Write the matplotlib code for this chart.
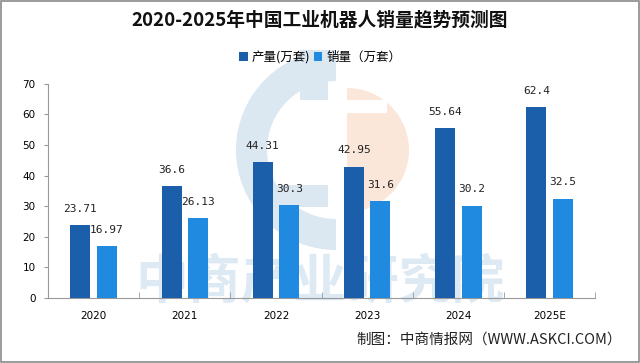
import matplotlib
matplotlib.use("Agg")
import matplotlib.pyplot as plt
import numpy as np
from matplotlib.patches import Rectangle, Wedge
from matplotlib.transforms import IdentityTransform

plt.rcParams['font.family'] = ['Noto Sans CJK SC', 'DejaVu Sans']

years = ["2020", "2021", "2022", "2023", "2024", "2025E"]
production = [23.71, 36.6, 44.31, 42.95, 55.64, 62.4]
sales = [16.97, 26.13, 30.3, 31.6, 30.2, 32.5]
prod_labels = ["23.71", "36.6", "44.31", "42.95", "55.64", "62.4"]
sales_labels = ["16.97", "26.13", "30.3", "31.6", "30.2", "32.5"]

c_dark = "#1b5fab"
c_light = "#2089e0"

W, H = 640, 363
fig = plt.figure(figsize=(6.4, 3.63), dpi=100)
fig.patch.set_facecolor("white")
fig.patches.append(Rectangle((0.002, 0.003), 0.996, 0.994, transform=fig.transFigure,
                             fill=False, edgecolor="#8a8a8a", linewidth=1.2))

# faint logo watermark (pixel coordinates)
logo_blue = "#dbe7f1"
logo_orange = "#fbe6da"
tr = IdentityTransform()
fig.patches.append(Wedge((336, H - 150), 100, 90, 270, width=31,
                         transform=tr, facecolor=logo_blue, edgecolor="none", zorder=-2))
fig.patches.append(Rectangle((300, H - 100), 28, 50, transform=tr,
                             facecolor=logo_blue, edgecolor="none", zorder=-2))
fig.patches.append(Rectangle((262, H - 207), 66, 22, transform=tr,
                             facecolor=logo_blue, edgecolor="none", zorder=-2))
fig.patches.append(Wedge((347, H - 150), 62, -90, 90, width=None,
                         transform=tr, facecolor=logo_orange, edgecolor="none", zorder=-2))
fig.patches.append(Rectangle((347, H - 113), 40, 13, transform=tr,
                             facecolor="white", edgecolor="none", zorder=-1))

ax = fig.add_axes([0.075, 0.179, 0.855, 0.590])
ax.set_zorder(1)
ax.patch.set_alpha(0)
x = np.arange(len(years))
w = 0.22
off = 0.145
ax.bar(x - off, production, w, color=c_dark, label="产量(万套)", zorder=3)
ax.bar(x + off, sales, w, color=c_light, label="销量（万套）", zorder=3)

for i in range(len(years)):
    ax.text(x[i] - off, production[i] + 5.3, prod_labels[i], ha="center", va="center",
            fontsize=8, color="#222222", family="DejaVu Sans Mono", zorder=4)
    ax.text(x[i] + off, sales[i] + 5.3, sales_labels[i], ha="center", va="center",
            fontsize=8, color="#222222", family="DejaVu Sans Mono", zorder=4)

ax.set_xlim(-0.5, 5.5)
ax.set_ylim(0, 70)
ax.set_yticks(range(0, 71, 10))
ax.set_xticks(x)
ax.set_xticklabels(years, fontsize=7.5, family="DejaVu Sans")
ax.tick_params(axis="x", length=0, pad=9)
ax.set_xticks(np.arange(-0.5, 6.0, 1.0), minor=True)
ax.tick_params(axis="x", which="minor", length=4, color="#999999", direction="in")
ax.tick_params(axis="y", labelsize=7.5, length=3, color="#999999", pad=6)
for lbl in ax.get_yticklabels():
    lbl.set_family("DejaVu Sans")
for s in ["top", "right"]:
    ax.spines[s].set_visible(False)
ax.spines["left"].set_color("#999999")
ax.spines["bottom"].set_color("#999999")

# watermark text
fig.text(0.5, 1 - 282 / H, "中商产业研究院", ha="center", va="center", fontsize=38,
         color="#bcd4e8", alpha=0.5, zorder=-1, fontweight="bold")

fig.text(0.5, 1 - 20 / H, "2020-2025年中国工业机器人销量趋势预测图", ha="center", va="center",
         fontsize=13.5, fontweight="bold", color="#111111")
fig.legend(loc="center", bbox_to_anchor=(0.5, 1 - 57 / H), ncol=2, frameon=False,
           fontsize=9, handlelength=0.7, handleheight=0.7, handletextpad=0.3, columnspacing=0.3)

fig.text(0.972, 1 - 340 / H, "制图：中商情报网（WWW.ASKCI.COM）", ha="right", va="center",
         fontsize=10.5, color="#222222")

fig.savefig("out.png", dpi=100)
